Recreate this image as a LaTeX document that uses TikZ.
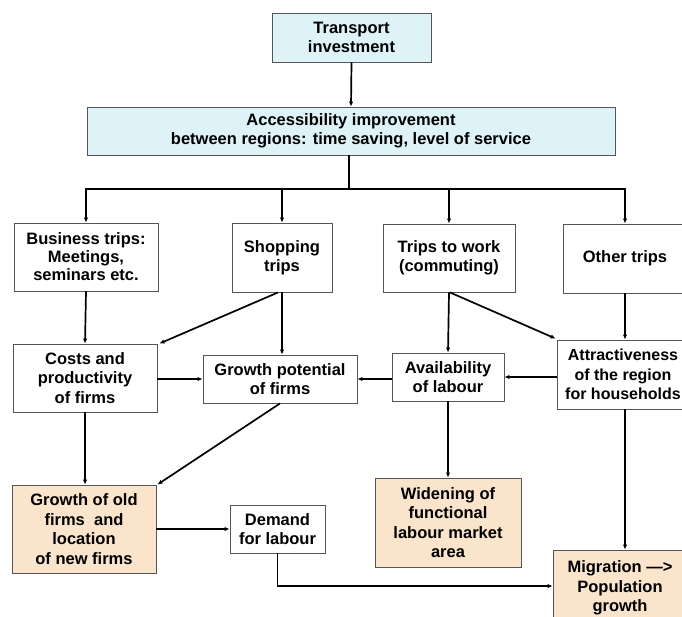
\documentclass[tikz,border=0pt]{standalone}
\usepackage{fontspec}
\setmainfont{Liberation Sans}
\usetikzlibrary{arrows.meta}
\definecolor{cyanbox}{RGB}{221,243,248}
\definecolor{peach}{RGB}{250,228,203}
\definecolor{edge}{RGB}{85,85,85}
\tikzset{
  box/.style={draw=edge, line width=0.9pt, fill=white, inner sep=0pt, align=center,
    font=\bfseries\fontsize{16.5}{19.5}\selectfont},
  bluebox/.style={box, fill=cyanbox},
  peachbox/.style={box, fill=peach},
  conn/.style={line width=1.7pt, -{Latex[length=5pt,width=4.5pt]}},
  plain/.style={line width=1.7pt}
}
\begin{document}
\begin{tikzpicture}[x=1pt,y=-1pt]
\clip (0,0) rectangle (682,616);
\fill[white] (0,0) rectangle (682,616);
% top
\node[bluebox, minimum width=159, minimum height=49] (trans) at (351.5,37.5) {Transport\\investment};
\node[bluebox, minimum width=528, minimum height=48] (access) at (351,131) {Accessibility improvement\\between regions: time saving, level of service};
% row 1
\node[box, minimum width=144, minimum height=68, font=\bfseries\fontsize{16.5}{18}\selectfont] (bus) at (86,257) {Business trips:\\Meetings,\\seminars etc.};
\node[box, minimum width=100, minimum height=69] (shop) at (282,257.5) {Shopping\\trips};
\node[box, minimum width=132, minimum height=68] (work) at (449,258) {Trips to work\\(commuting)};
\node[box, minimum width=124, minimum height=69] (other) at (625,258.5) {Other trips};
% row 2
\node[box, minimum width=144, minimum height=68] (costs) at (85,378) {Costs and\\productivity\\of firms};
\node[box, minimum width=154, minimum height=48] (gpot) at (280,379) {Growth potential\\of firms};
\node[box, minimum width=112, minimum height=48] (avail) at (448,377) {Availability\\of labour};
\node[box, minimum width=132, minimum height=69, font=\bfseries\fontsize{16}{19.5}\selectfont] (attr) at (623,374.5) {Attractiveness\\of the region\\for households};
% row 3
\node[peachbox, minimum width=144, minimum height=88] (gold) at (84,529) {Growth of old\\firms\ \ and\\location\\of new firms};
\node[box, minimum width=95, minimum height=48] (demand) at (277.5,529) {Demand\\for labour};
\node[peachbox, minimum width=146, minimum height=89] (widen) at (448,522.5) {Widening of\\functional\\labour market\\area};
\node[peachbox, minimum width=134, minimum height=76] (migr) at (620,588) {Migration —>\\Population\\growth};
% connectors top
\draw[conn] (trans.south) -- (access.north);
\coordinate (bar) at (349,189);
\draw[plain] (access.south -| bar) -- (bar);
\draw[plain, line cap=rect] (bus.north |- bar) -- (other.north |- bar);
\draw[conn] (bus.north |- bar) -- (bus.north);
\draw[conn] (shop.north |- bar) -- (shop.north);
\draw[conn] (work.north |- bar) -- (work.north);
\draw[conn] (other.north |- bar) -- (other.north);
% row 1 -> row 2
\draw[conn] (bus.south) -- (costs.north);
\draw[conn] ([xshift=-4pt]shop.south) -- ([xshift=2pt]costs.north east);
\draw[conn] (shop.south) -- (shop.south |- gpot.north);
\draw[conn] (costs.east |- gpot.west) -- (gpot.west);
\draw[conn] (avail.west |- gpot.east) -- (gpot.east);
\draw[conn] (attr.west |- avail.east) -- (avail.east);
\draw[conn] (work.south) -- (avail.north);
\draw[conn] ([xshift=1pt]work.south) -- ([xshift=-1pt,yshift=1pt]attr.north west);
\draw[conn] (other.south) -- (other.south |- attr.north);
% row 2 -> row 3
\draw[conn] (costs.south) -- (costs.south |- gold.north);
\draw[conn] (gpot.south) -- ([xshift=1pt]gold.north east);
\draw[conn] (avail.south) -- (widen.north);
\draw[conn] (other.south |- attr.south) -- (other.south |- migr.north);
\draw[conn] (gold.east |- demand.west) -- (demand.west);
\coordinate (corner) at (277.5,586);
\draw[conn] (demand.south) -- (corner) -- (corner -| migr.west);
\end{tikzpicture}
\end{document}
